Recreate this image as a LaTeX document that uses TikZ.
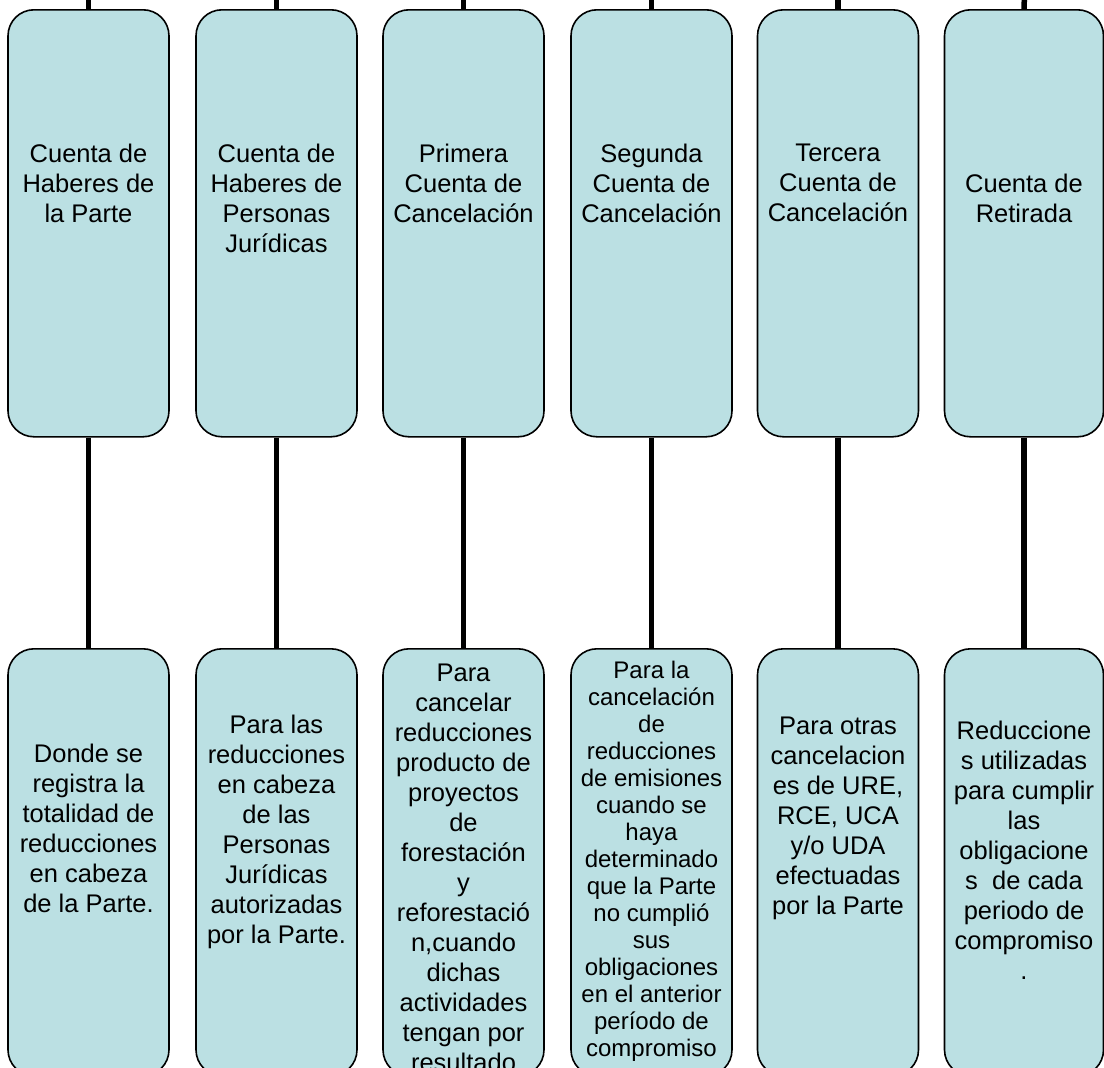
\documentclass[tikz,border=0pt]{standalone}
\usepackage{fontspec}
\setmainfont{Liberation Sans}
\definecolor{boxfill}{RGB}{187,224,227}
\tikzset{
  acct/.style={draw=black, line width=1.6pt, fill=boxfill, rounded corners=26pt,
    minimum width=161pt, minimum height=427pt, inner sep=0pt, anchor=north},
  txt/.style={align=center, font=\fontsize{25.5}{30}\selectfont, inner sep=0pt},
  smalltxt/.style={align=center, font=\fontsize{24}{27}\selectfont, inner sep=0pt},
  conn/.style={line width=5.5pt, draw=black}
}
\begin{document}
\begin{tikzpicture}[x=1pt,y=-1pt]
\useasboundingbox (0,0) rectangle (1104,1068);
\clip (0,0) rectangle (1104,1068);

% free ends above the picture
\coordinate (c1) at (88.5,-20);
\coordinate (c2) at (276.5,-20);
\coordinate (c3) at (463.5,-20);
\coordinate (c4) at (651.5,-20);
\coordinate (c5) at (838,-20);
\coordinate (c6) at (1025,-20);

% top boxes
\node[acct] (t1) at (88.5,9) {};
\node[acct] (t2) at (276.5,9) {};
\node[acct] (t3) at (463.5,9) {};
\node[acct] (t4) at (651.5,9) {};
\node[acct] (t5) at (838,9) {};
\node[acct, minimum width=159pt] (t6) at (1024,9) {};

% bottom boxes
\node[acct] (b1) at (88.5,648) {};
\node[acct] (b2) at (276.5,648) {};
\node[acct] (b3) at (463.5,648) {};
\node[acct] (b4) at (651.5,648) {};
\node[acct] (b5) at (838,648) {};
\node[acct, minimum width=159pt] (b6) at (1024,648) {};

% connectors
\foreach \i in {1,...,6}{
  \draw[conn] (c\i) -- (t\i.north);
  \draw[conn] (t\i.south) -- (b\i.north);
}

% top texts
\node[txt] (tt1) at (88.5,183) {Cuenta de\\Haberes de\\la Parte};
\node[txt] (tt2) at (276.5,198) {Cuenta de\\Haberes de\\Personas\\Jurídicas};
\node[txt] (tt3) at (463.5,183) {Primera\\Cuenta de\\Cancelación};
\node[txt] (tt4) at (651.5,183) {Segunda\\Cuenta de\\Cancelación};
\node[txt] (tt5) at (838,183) {Tercera\\Cuenta de\\Cancelación};
\node[txt] (tt6) at (1024,198) {Cuenta de\\Retirada};

% bottom texts
\node[txt] (bt1) at (88.5,828) {Donde se\\registra la\\totalidad de\\reducciones\\en cabeza\\de la Parte.};
\node[txt] (bt2) at (276.5,832) {Para las\\reducciones\\en cabeza\\de las\\Personas\\Jurídicas\\autorizadas\\por la Parte.};
\node[txt] (bt3) at (463.5,868) {Para\\cancelar\\reducciones\\producto de\\proyectos\\de\\forestación\\y\\reforestació\\n,cuando\\dichas\\actividades\\tengan por\\resultado};
\node[smalltxt] (bt4) at (651.5,861) {Para la\\cancelación\\de\\reducciones\\de emisiones\\cuando se\\haya\\determinado\\que la Parte\\no cumplió\\sus\\obligaciones\\en el anterior\\período de\\compromiso};
\node[txt] (bt5) at (838,818) {Para otras\\cancelacion\\es de URE,\\RCE, UCA\\y/o UDA\\efectuadas\\por la Parte};
\node[txt] (bt6) at (1024,850) {Reduccione\\s utilizadas\\para cumplir\\las\\obligacione\\s\ \ de cada\\periodo de\\compromiso\\.};
\end{tikzpicture}
\end{document}
